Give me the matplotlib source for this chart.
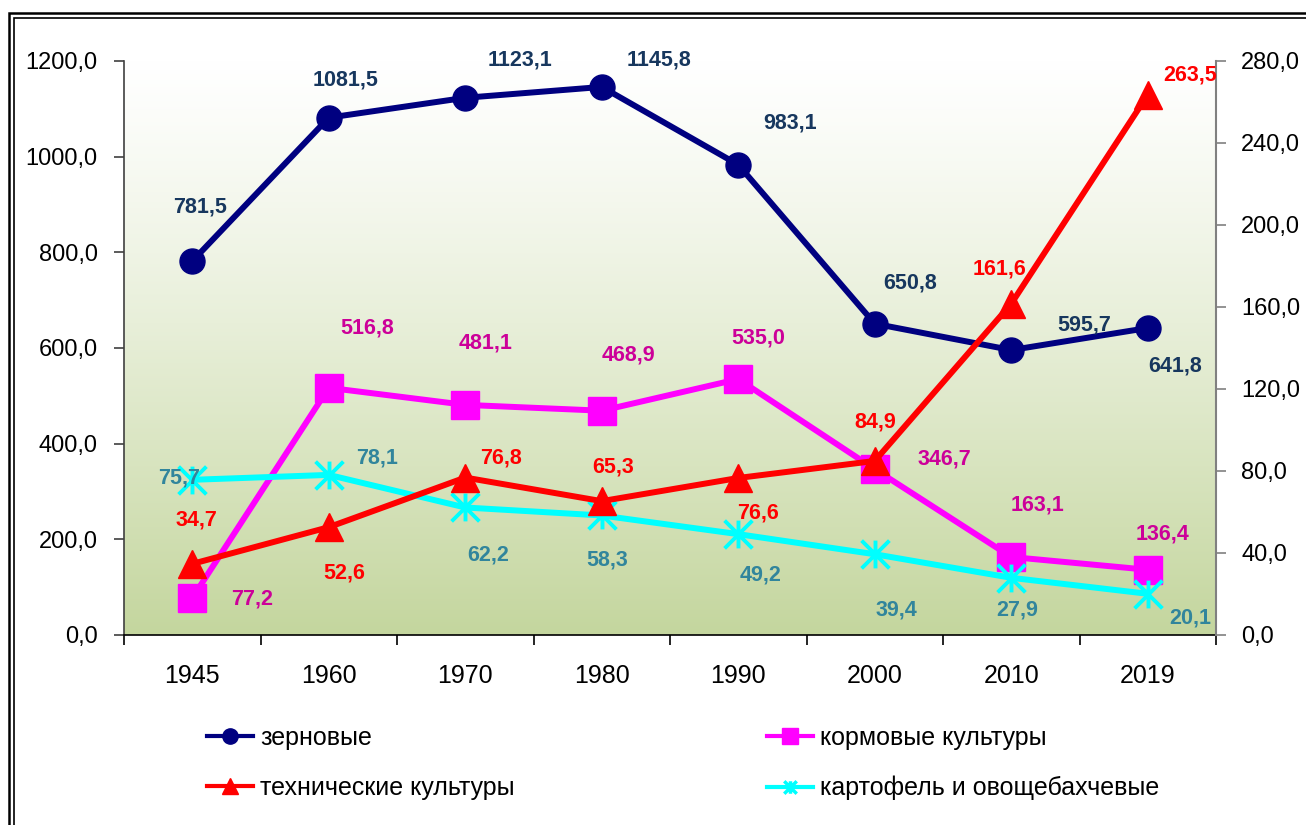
import numpy as np
import matplotlib
matplotlib.use("Agg")
import matplotlib.pyplot as plt
from matplotlib.lines import Line2D
from matplotlib.patches import Rectangle
from matplotlib.path import Path

plt.rcParams['font.family'] = ['Liberation Sans', 'DejaVu Sans']

years = ['1945', '1960', '1970', '1980', '1990', '2000', '2010', '2019']
grain = [781.5, 1081.5, 1123.1, 1145.8, 983.1, 650.8, 595.7, 641.8]
fodder = [77.2, 516.8, 481.1, 468.9, 535.0, 346.7, 163.1, 136.4]
technical = [34.7, 52.6, 76.8, 65.3, 76.6, 84.9, 161.6, 263.5]
potato = [75.7, 78.1, 62.2, 58.3, 49.2, 39.4, 27.9, 20.1]

names = ['зерновые', 'кормовые культуры', 'технические культуры', 'картофель и овощебахчевые']

# label offsets in pixels (dx, dy)
off_grain = [(8, 54), (17, 38), (55, 38), (57, 27), (52, 42), (35, 41), (73, 25), (27, -38)]
off_fodder = [(60, -1), (38, 60), (20, 62), (27, 56), (20, 41), (70, 10), (26, 52), (15, 36)]
off_tech = [(4, 44), (16, -46), (36, 20), (11, 34), (20, -35), (0, 39), (-12, 35), (42, 20)]
off_potato = [(-13, 2), (48, 17), (23, -48), (5, -45), (22, -41), (22, -56), (6, -32), (42, -24)]

def fmt(v):
    return f"{v:.1f}".replace('.', ',')

star = Path([(-1, -1), (1, 1), (-1, 1), (1, -1), (0, -1), (0, 1)],
            [Path.MOVETO, Path.LINETO, Path.MOVETO, Path.LINETO, Path.MOVETO, Path.LINETO])

fig = plt.figure(figsize=(13.06, 8.25), dpi=100)
ax = fig.add_axes([124 / 1306, 1 - 635 / 825, 1092 / 1306, 574 / 825])
ax2 = ax.twinx()

x = np.arange(len(years))

# background gradient
t = np.linspace(0, 1, 256)
white = np.array([1.0, 1.0, 1.0])
green = np.array([196, 214, 158]) / 255
frac = (1 - t) ** 1.2
grad = white[None, :] + (green - white)[None, :] * frac[:, None]
ax.imshow(grad[:, None, :], extent=[-0.5, 7.5, 0, 1200], aspect='auto', origin='lower', zorder=0)

lw = 4.3
ax.plot(x, grain, color='#000080', lw=lw, marker='o', ms=18, zorder=3)
ax.plot(x, fodder, color='#FF00FF', lw=lw, marker='s', ms=20, zorder=2)
ax2.plot(x, technical, color='#FF0000', lw=lw, marker='^', ms=20, zorder=3)
ax2.plot(x, potato, color='#00FFFF', lw=lw, marker=star, ms=20, mew=2.8, mfc='none', zorder=2)

ax.set_xlim(-0.5, 7.5)
ax.set_ylim(0, 1200)
ax2.set_ylim(0, 280)
ax.set_yticks(np.arange(0, 1201, 200))
ax.set_yticklabels([fmt(v) for v in np.arange(0, 1201, 200)])
ax2.set_yticks(np.arange(0, 281, 40))
ax2.set_yticklabels([fmt(v) for v in np.arange(0, 281, 40)])
ax.set_xticks(x)
ax.set_xticklabels(years)
ax.set_xticks(np.arange(-0.5, 8, 1), minor=True)
ax.tick_params(axis='x', which='major', length=0, pad=21, labelsize=18)
ax.tick_params(axis='x', which='minor', length=7, width=1.2, color='black', direction='out')
ax.tick_params(axis='y', length=7, width=1.2, pad=12, labelsize=17, color='#404040', direction='out')
ax2.tick_params(axis='y', length=7, width=1.2, pad=11, labelsize=17, color='#808080', direction='out')

for s in ['top', 'right']:
    ax.spines[s].set_visible(False)
for s in ['top', 'left', 'bottom']:
    ax2.spines[s].set_visible(False)
ax.spines['left'].set_color('#404040')
ax.spines['left'].set_linewidth(1.2)
ax.spines['bottom'].set_color('black')
ax.spines['bottom'].set_linewidth(1.2)
ax2.spines['right'].set_color('#808080')
ax2.spines['right'].set_linewidth(1.5)

# data labels
def labels(vals, offs, color, trans):
    for i, (v, o) in enumerate(zip(vals, offs)):
        ax2.annotate(fmt(v), (i, v), xycoords=trans, xytext=o, textcoords='offset pixels',
                     ha='center', va='center', fontsize=15.5, fontweight='bold', color=color,
                     zorder=10, annotation_clip=False)

labels(grain, off_grain, '#17375E', ax.transData)
labels(fodder, off_fodder, '#CC0099', ax.transData)
labels(technical, off_tech, '#FF0000', ax2.transData)
labels(potato, off_potato, '#31859C', ax2.transData)

# legend
h_grain = Line2D([], [], color='#000080', lw=3, marker='o', ms=11)
h_fodder = Line2D([], [], color='#FF00FF', lw=3, marker='s', ms=11)
h_tech = Line2D([], [], color='#FF0000', lw=3, marker='^', ms=11)
h_potato = Line2D([], [], color='#00FFFF', lw=3, marker=star, ms=9, mew=2.5, mfc='none')

leg_kw = dict(frameon=False, fontsize=18, handlelength=1.85, handletextpad=0.3,
              labelspacing=1.05, borderpad=0, loc='upper left')
leg1 = fig.legend([h_grain, h_tech], [names[0], names[2]],
                  bbox_to_anchor=(194 / 1306, 1 - 713 / 825), **leg_kw)
leg2 = fig.legend([h_fodder, h_potato], [names[1], names[3]],
                  bbox_to_anchor=(754 / 1306, 1 - 713 / 825), **leg_kw)

# double frame
fig.patches.append(Rectangle((9 / 1306, -0.05), 1.2, 1 - 13 / 825 + 0.05, transform=fig.transFigure,
                             fill=False, ec='black', lw=1.8))
fig.patches.append(Rectangle((14 / 1306, -0.05), 1.2, 1 - 18 / 825 + 0.05, transform=fig.transFigure,
                             fill=False, ec='black', lw=1.2))

fig.savefig('out.png', dpi=100)
